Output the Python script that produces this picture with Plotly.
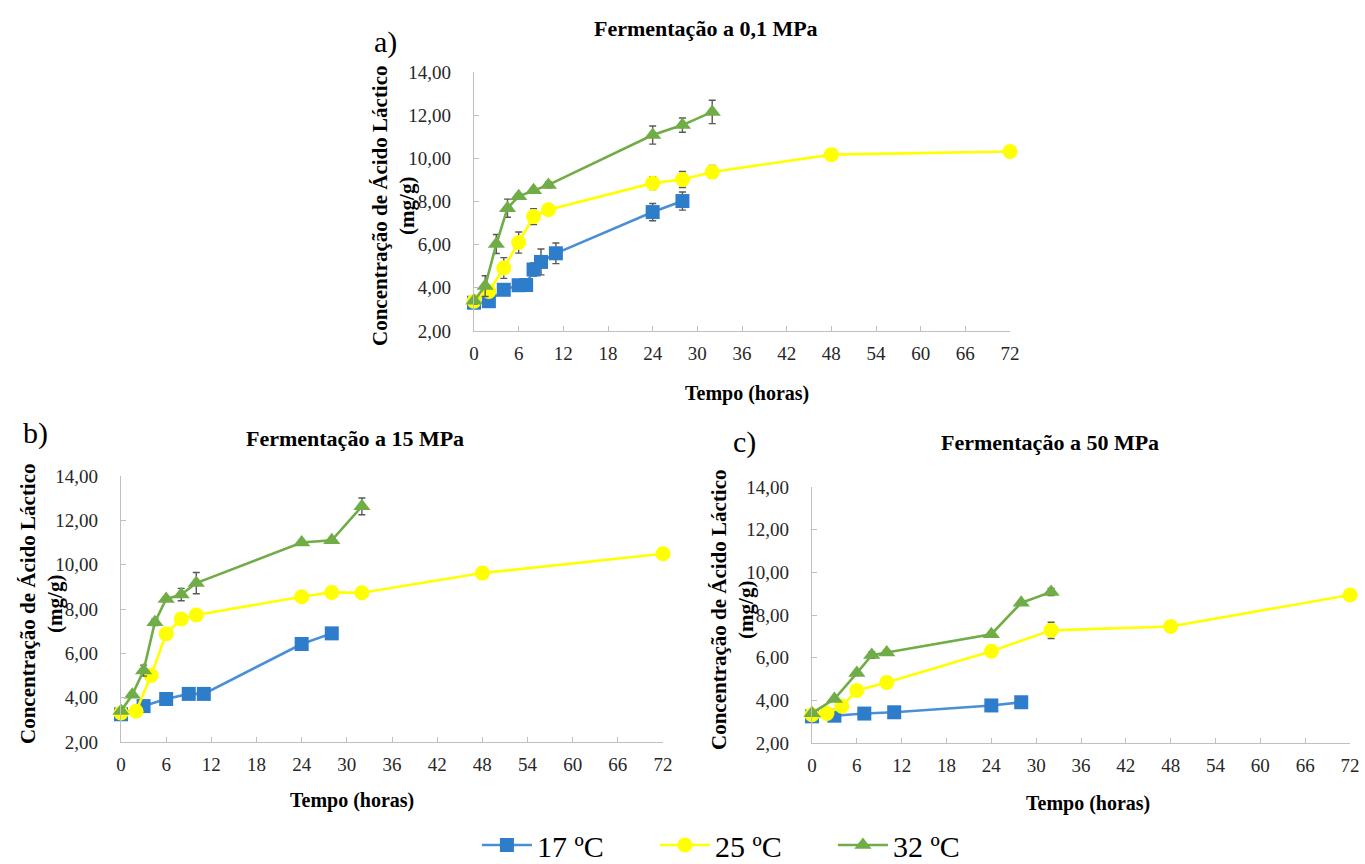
import plotly.graph_objects as go

# ---- data: lactic acid concentration (mg/g) vs time (h) ----
# 0,1 MPa
t17_a = [0, 2, 4, 6, 7, 8, 9, 11, 24, 28]
c17_a = [3.31, 3.38, 3.91, 4.12, 4.13, 4.85, 5.20, 5.60, 7.51, 8.02]
e17_a = [0.12, 0.08, 0.12, 0.15, 0.12, 0.30, 0.60, 0.48, 0.40, 0.42]
t25_a = [0, 2, 4, 6, 8, 10, 24, 28, 32, 48, 72]
c25_a = [3.38, 3.83, 4.92, 6.10, 7.30, 7.62, 8.85, 9.02, 9.37, 10.17, 10.32]
e25_a = [0.10, 0.15, 0.48, 0.49, 0.37, 0.08, 0.30, 0.37, 0.30, 0.0, 0.0]
t32_a = [0, 1.5, 3, 4.5, 6, 8, 10, 24, 28, 32]
c32_a = [3.40, 4.08, 6.03, 7.69, 8.24, 8.52, 8.77, 11.08, 11.54, 12.15]
e32_a = [0.15, 0.48, 0.44, 0.42, 0.12, 0.10, 0.14, 0.42, 0.33, 0.54]

# 15 MPa
t17_b = [0, 3, 6, 9, 11, 24, 28]
c17_b = [3.25, 3.62, 3.94, 4.17, 4.17, 6.42, 6.90]
e17_b = [0.05, 0.10, 0.05, 0.05, 0.05, 0.05, 0.05]
t25_b = [0, 2, 4, 6, 8, 10, 24, 28, 32, 48, 72]
c25_b = [3.31, 3.39, 5.00, 6.88, 7.55, 7.73, 8.55, 8.75, 8.73, 9.62, 10.49]
e25_b = [0.05, 0.15, 0.05, 0.05, 0.05, 0.05, 0.22, 0.05, 0.05, 0.0, 0.0]
t32_b = [0, 1.5, 3, 4.5, 6, 8, 10, 24, 28, 32]
c32_b = [3.40, 4.13, 5.22, 7.40, 8.45, 8.65, 9.17, 11.00, 11.10, 12.63]
e32_b = [0.05, 0.08, 0.25, 0.15, 0.08, 0.28, 0.48, 0.08, 0.05, 0.38]

# 50 MPa
t17_c = [0, 3, 7, 11, 24, 28]
c17_c = [3.25, 3.28, 3.38, 3.44, 3.76, 3.91]
e17_c = [0.05, 0.10, 0.05, 0.05, 0.05, 0.05]
t25_c = [0, 2, 4, 6, 10, 24, 32, 48, 72]
c25_c = [3.33, 3.38, 3.72, 4.46, 4.84, 6.30, 7.28, 7.46, 8.94]
e25_c = [0.05, 0.20, 0.05, 0.05, 0.05, 0.05, 0.38, 0.0, 0.0]
t32_c = [0, 3, 6, 8, 10, 24, 28, 32]
c32_c = [3.40, 4.06, 5.28, 6.12, 6.24, 7.10, 8.57, 9.08]
e32_c = [0.05, 0.05, 0.05, 0.15, 0.10, 0.05, 0.10, 0.17]

series_names = ["17 ºC", "25 ºC", "32 ºC"]
panel_titles = ["Fermentação a 0,1 MPa", "Fermentação a 15 MPa", "Fermentação a 50 MPa"]
panel_letters = ["a)", "b)", "c)"]
x_ticks = [0, 6, 12, 18, 24, 30, 36, 42, 48, 54, 60, 66, 72]
y_ticks = [2, 4, 6, 8, 10, 12, 14]
y_tick_labels = ["2,00", "4,00", "6,00", "8,00", "10,00", "12,00", "14,00"]
x_title = "Tempo (horas)"
y_title = "Concentração de Ácido Láctico<br>(mg/g)"

SERIF = "Liberation Serif"
W, H = 1365, 864

styles = [
    dict(line_color="#4A8FD6", marker_color="#2E7DCB", symbol="square", size=14),
    dict(line_color="#FFFF00", marker_color="#FFFF00", symbol="circle", size=15),
    dict(line_color="#70AD47", marker_color="#70AD47", symbol="triangle-up", size=15),
]

panels = [
    ([t17_a, t25_a, t32_a], [c17_a, c25_a, c32_a], [e17_a, e25_a, e32_a]),
    ([t17_b, t25_b, t32_b], [c17_b, c25_b, c32_b], [e17_b, e25_b, e32_b]),
    ([t17_c, t25_c, t32_c], [c17_c, c25_c, c32_c], [e17_c, e25_c, e32_c]),
]

# plot-area boxes in pixels: (left, right, top, bottom)
boxes = [(474, 1010, 72, 331), (121, 663, 476, 742), (812, 1350, 487, 743)]
title_pos = [(706, 28), (355, 438), (1050, 442)]
letter_pos = [(385, 42), (35, 433), (745, 442)]
xtitle_pos = [(747, 393), (352, 800), (1088, 803)]
ytitle_pos = [(394, 205), (41, 604), (732, 610)]

fig = go.Figure()
for p, (ts, cs, es) in enumerate(panels):
    ax = "" if p == 0 else str(p + 1)
    for s in range(3):
        st = styles[s]
        fig.add_trace(go.Scatter(
            x=ts[s], y=cs[s], mode="lines+markers", name=series_names[s],
            xaxis="x" + ax, yaxis="y" + ax, showlegend=(p == 0),
            line=dict(color=st["line_color"], width=2.6),
            marker=dict(color=st["marker_color"], symbol=st["symbol"], size=st["size"]),
            error_y=dict(type="data", array=es[s], visible=True,
                         color="#595959", thickness=1.4, width=3.5),
            cliponaxis=False,
        ))

layout = dict(
    width=W, height=H, margin=dict(l=0, r=0, t=0, b=0, autoexpand=False),
    paper_bgcolor="white", plot_bgcolor="white",
    font=dict(family=SERIF, color="black"),
    legend=dict(orientation="h", x=0.545, xanchor="center", y=1 - 845 / H, yanchor="middle",
                font=dict(size=30, family=SERIF), itemwidth=50,
                entrywidth=113, entrywidthmode="pixels", traceorder="normal"),
)


def label(text, pos, size, angle=0):
    return dict(text=text, x=pos[0] / W, y=1 - pos[1] / H, xref="paper", yref="paper",
                xanchor="center", yanchor="middle", showarrow=False, textangle=angle,
                font=dict(size=size, family=SERIF, color="black"))


annotations = []
for p, (l, r, t, b) in enumerate(boxes):
    ax = "" if p == 0 else str(p + 1)
    xd = [l / W, r / W]
    yd = [1 - b / H, 1 - t / H]
    common = dict(showgrid=False, zeroline=False, showline=True, linecolor="#BFBFBF",
                  linewidth=1.3, ticks="inside", ticklen=5, tickcolor="#BFBFBF",
                  tickfont=dict(family=SERIF, size=19, color="#262626"))
    layout["xaxis" + ax] = dict(domain=xd, range=[0, 72], tickvals=x_ticks,
                                anchor="y" + ax, ticklabelstandoff=5, automargin=False,
                                **common)
    layout["yaxis" + ax] = dict(domain=yd, range=[2, 14], tickvals=y_ticks,
                                ticktext=y_tick_labels, anchor="x" + ax,
                                ticklabelstandoff=18, automargin=False, **common)
    annotations.append(label("<b>" + panel_titles[p] + "</b>", title_pos[p], 22))
    annotations.append(label(panel_letters[p], letter_pos[p], 30))
    annotations.append(label("<b>" + x_title + "</b>", xtitle_pos[p], 20))
    annotations.append(label("<b>" + y_title + "</b>", ytitle_pos[p], 21, angle=-90))

layout["annotations"] = annotations
fig.update_layout(**layout)
fig.write_html("out.html")
